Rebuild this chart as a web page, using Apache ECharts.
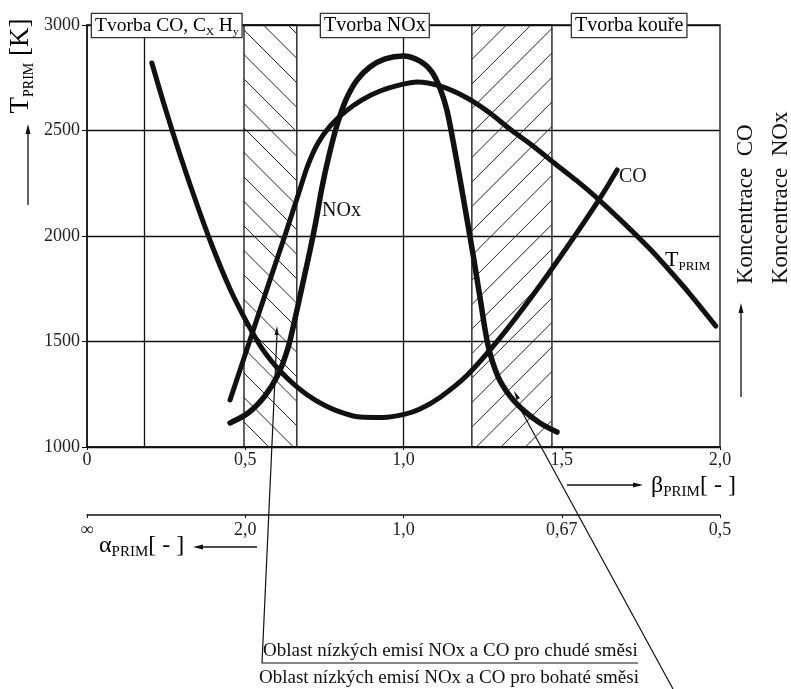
<!DOCTYPE html>
<html>
<head>
<meta charset="utf-8">
<title>Tvorba CO, NOx a kouře</title>
<script src="https://cdn.jsdelivr.net/npm/echarts@6.0.0/dist/echarts.min.js"></script>
<style>
  html, body { margin: 0; padding: 0; background: #fff; }
  #main { width: 791px; height: 689px; }
</style>
</head>
<body>
<div id="main"></div>
<script>
// osy
var betaTicks = [0, 0.5, 1.0, 1.5, 2.0];
var betaLabels = ['0', '0,5', '1,0', '1,5', '2,0'];
var alphaLabels = ['\u221e', '2,0', '1,0', '0,67', '0,5'];
var tempMin = 1000;
var tempMax = 3000;

// krivka CO
var coBeta = [0.205, 0.246, 0.294, 0.348, 0.398, 0.452, 0.506, 0.556, 0.610, 0.664, 0.720, 0.784,
              0.863, 0.935, 1.005, 1.052, 1.115, 1.201, 1.305, 1.409, 1.517, 1.621, 1.675];
var coVal  = [2820, 2611, 2384, 2147, 1943, 1749, 1588, 1460, 1360, 1284, 1223, 1175,
              1142, 1140, 1156, 1180, 1235, 1340, 1517, 1720, 1948, 2180, 2313];

// krivka NOx
var noxBeta = [0.452, 0.509, 0.562, 0.603, 0.635, 0.660, 0.682, 0.705, 0.724, 0.742, 0.765, 0.790,
               0.818, 0.853, 0.894, 0.942, 0.998, 1.052, 1.090, 1.115, 1.137, 1.156, 1.179, 1.201,
               1.220, 1.242, 1.267, 1.299, 1.336, 1.381, 1.431, 1.485];
var noxVal  = [1114, 1161, 1242, 1341, 1469, 1626, 1777, 1934, 2076, 2227, 2384, 2526,
               2645, 2739, 2801, 2839, 2853, 2829, 2777, 2701, 2597, 2455, 2265, 2076,
               1910, 1706, 1483, 1332, 1242, 1171, 1114, 1071];

// krivka T_PRIM
var tBeta = [0.452, 0.515, 0.578, 0.626, 0.667, 0.698, 0.730, 0.768, 0.815, 0.869, 0.926, 0.989,
             1.043, 1.115, 1.201, 1.273, 1.336, 1.409, 1.472, 1.548, 1.615, 1.706, 1.779, 1.842,
             1.905, 1.987];
var tVal  = [1223, 1507, 1791, 2005, 2194, 2336, 2441, 2521, 2588, 2645, 2687, 2716,
             2730, 2711, 2654, 2583, 2507, 2427, 2351, 2261, 2175, 2047, 1938, 1834,
             1725, 1573];

// svisle cary a srafovane oblasti
var dividerBeta = [0.185, 1.0];
var hatchBands = [[0.496, 0.663, -1], [1.216, 1.469, 1]];

var serif = '"Liberation Serif", "DejaVu Serif", serif';
var ink = '#111';

function pairs(xs, ys) {
  var out = [];
  for (var i = 0; i < xs.length; i++) out.push([xs[i], ys[i]]);
  return out;
}

// hrot sipky
function arrowHead(tx, ty, fx, fy, len, half) {
  var dx = tx - fx, dy = ty - fy, d = Math.sqrt(dx * dx + dy * dy);
  var ux = dx / d, uy = dy / d;
  var bx = tx - ux * len, by = ty - uy * len;
  return {
    type: 'polygon', silent: true,
    shape: { points: [[tx, ty], [bx - uy * half, by + ux * half], [bx + uy * half, by - ux * half]] },
    style: { fill: ink }
  };
}

function line(x1, y1, x2, y2, w) {
  return { type: 'line', silent: true, shape: { x1: x1, y1: y1, x2: x2, y2: y2 },
           style: { stroke: ink, lineWidth: w || 1.3 } };
}

function sub(big, small) {
  return {
    t: { fontFamily: serif, fontSize: big, color: ink, verticalAlign: 'bottom' },
    s: { fontFamily: serif, fontSize: small, color: ink, verticalAlign: 'bottom', padding: [0, 0, -2, 0] }
  };
}

function box(x, text, rich) {
  return {
    type: 'text', x: x, y: 25.5, z: 50,
    style: {
      text: text, rich: rich, align: 'left', verticalAlign: 'middle',
      backgroundColor: '#fff', borderColor: '#333', borderWidth: 1.3, padding: [2, 3, 1, 3]
    }
  };
}

function renderHatch(params, api) {
  var x0 = api.value(0), x1 = api.value(1), dir = api.value(2);
  var p0 = api.coord([x0, tempMax]);
  var p1 = api.coord([x1, tempMin]);
  var left = p0[0], top = p0[1], w = p1[0] - p0[0], h = p1[1] - p0[1];
  var step = 24.5;
  var children = [{
    type: 'rect', shape: { x: left, y: top, width: w, height: h },
    style: { fill: null, stroke: ink, lineWidth: 1.3 }
  }];
  var phase = dir < 0 ? 5 : 20;
  for (var c = phase - Math.ceil(w / step) * step; c < h; c += step) {
    var t0 = Math.max(0, -c), t1 = Math.min(w, h - c);
    if (t1 <= t0) continue;
    var ya, yb;
    if (dir < 0) { ya = top + t0 + c; yb = top + t1 + c; }
    else { ya = top + h - t0 - c; yb = top + h - t1 - c; }
    children.push({
      type: 'line', shape: { x1: left + t0, y1: ya, x2: left + t1, y2: yb },
      style: { stroke: '#222', lineWidth: 1 }
    });
  }
  return { type: 'group', children: children };
}

var chart = echarts.init(document.getElementById('main'));

var curveStyle = { color: ink, width: 5, cap: 'round', join: 'round' };

chart.setOption({
  animation: false,
  backgroundColor: '#fff',
  grid: {
    left: 87, top: 25, width: 633, height: 422,
    show: true, borderColor: ink, borderWidth: 1.3,
    outerBoundsMode: 'none'
  },
  xAxis: [{
    type: 'value', min: 0, max: 2, interval: 0.5,
    axisLine: { show: true, lineStyle: { color: ink, width: 1.5 } },
    axisTick: { show: true, length: 3, lineStyle: { color: ink } },
    splitLine: { show: false },
    axisLabel: {
      margin: 4, fontFamily: serif, fontSize: 18, color: '#222',
      formatter: function (v) { return betaLabels[betaTicks.indexOf(Math.round(v * 2) / 2)]; }
    }
  }, {
    type: 'value', min: 0, max: 2, interval: 0.5, position: 'bottom', offset: 68,
    axisLine: { show: true, onZero: false, lineStyle: { color: ink, width: 1.5 } },
    axisTick: { show: true, length: 3, lineStyle: { color: ink } },
    splitLine: { show: false },
    axisLabel: {
      margin: 6, fontFamily: serif, fontSize: 18, color: '#222',
      formatter: function (v) { return alphaLabels[betaTicks.indexOf(Math.round(v * 2) / 2)]; }
    }
  }],
  yAxis: {
    type: 'value', min: tempMin, max: tempMax, interval: 500,
    axisLine: { show: true, lineStyle: { color: ink, width: 1.5 } },
    axisTick: { show: true, length: 5, lineStyle: { color: ink } },
    axisLabel: {
      margin: 7, fontFamily: serif, fontSize: 18, color: '#222',
      formatter: function (v) { return String(v); }
    },
    splitLine: { show: true, lineStyle: { color: ink, width: 1.3 } }
  },
  series: [{
    type: 'custom', name: 'hatch', z: 1, silent: true,
    renderItem: renderHatch,
    encode: { x: [0, 1] },
    data: hatchBands
  }, {
    type: 'line', name: 'CO', z: 3, smooth: 0.3, showSymbol: false, silent: true,
    lineStyle: curveStyle,
    data: pairs(coBeta, coVal),
    markLine: {
      silent: true, symbol: 'none', label: { show: false },
      lineStyle: { color: ink, width: 1.3, type: 'solid' },
      data: dividerBeta.map(function (b) { return { xAxis: b }; })
    }
  }, {
    type: 'line', name: 'NOx', z: 3, smooth: 0.3, showSymbol: false, silent: true,
    lineStyle: { color: ink, width: 5.5, cap: 'round', join: 'round' },
    data: pairs(noxBeta, noxVal)
  }, {
    type: 'line', name: 'TPRIM', z: 3, smooth: 0.3, showSymbol: false, silent: true,
    lineStyle: curveStyle,
    data: pairs(tBeta, tVal)
  }],
  graphic: {
    elements: [
      // popisky oblasti nahore
      box(92, '{t|Tvorba CO, C}{s|X}{t| H}{s|y}', sub(19.5, 11)),
      box(321, '{t|Tvorba NOx}', sub(20, 11)),
      box(572, '{t|Tvorba kouře}', sub(20, 11)),

      // osa T_PRIM
      {
        type: 'text', x: 21, y: 66, rotation: Math.PI / 2, silent: true,
        style: { text: '{t|T}{s|PRIM}{t| [K]}', rich: sub(27, 14), align: 'center', verticalAlign: 'middle' }
      },
      line(28, 205, 28, 133),
      arrowHead(28, 124, 28, 205, 10, 2.5),

      // koncentrace vpravo
      {
        type: 'text', x: 746, y: 284, rotation: Math.PI / 2, silent: true,
        style: { text: 'Koncentrace  CO', fontFamily: serif, fontSize: 23, fill: ink, align: 'left', verticalAlign: 'middle' }
      },
      {
        type: 'text', x: 781, y: 284, rotation: Math.PI / 2, silent: true,
        style: { text: 'Koncentrace  NOx', fontFamily: serif, fontSize: 23, fill: ink, align: 'left', verticalAlign: 'middle' }
      },
      line(741, 397, 741, 313),
      arrowHead(741, 303, 741, 397, 10, 2.5),

      // popisky krivek
      {
        type: 'text', x: 322, y: 211, silent: true, z: 10,
        style: { text: 'NOx', fontFamily: serif, fontSize: 20, fill: ink, align: 'left', verticalAlign: 'middle' }
      },
      {
        type: 'text', x: 619, y: 177, silent: true, z: 10,
        style: { text: 'CO', fontFamily: serif, fontSize: 20, fill: ink, align: 'left', verticalAlign: 'middle' }
      },
      {
        type: 'text', x: 665, y: 260, silent: true, z: 10,
        style: { text: '{t|T}{s|PRIM}', rich: sub(22, 13), align: 'left', verticalAlign: 'middle' }
      },

      // beta
      line(567, 485, 634, 485),
      arrowHead(643, 485, 567, 485, 10, 2.5),
      {
        type: 'text', x: 651, y: 486, silent: true,
        style: { text: '{t|β}{s|PRIM}{t|[ - ]}', rich: sub(24, 15), align: 'left', verticalAlign: 'middle' }
      },

      // alfa
      {
        type: 'text', x: 99, y: 546, silent: true,
        style: { text: '{t|α}{s|PRIM}{t|[ - ]}', rich: sub(24, 15), align: 'left', verticalAlign: 'middle' }
      },
      line(257, 547, 202, 547),
      arrowHead(193, 547, 257, 547, 10, 2.5),

      // oblasti nizkych emisi
      {
        type: 'polyline', silent: true, z: 10,
        shape: { points: [[277, 334], [262, 663], [638, 663]] },
        style: { stroke: ink, lineWidth: 1.2, fill: null }
      },
      arrowHead(277, 326, 262, 663, 9, 2),
      line(515, 399, 673, 689, 1.2),
      arrowHead(514, 391, 673, 689, 9, 2),
      {
        type: 'text', x: 263, y: 651, silent: true,
        style: { text: 'Oblast nízkých emisí NOx a CO pro chudé směsi', fontFamily: serif, fontSize: 19, fill: ink, align: 'left', verticalAlign: 'middle' }
      },
      {
        type: 'text', x: 259, y: 678, silent: true,
        style: { text: 'Oblast nízkých emisí NOx a CO pro bohaté směsi', fontFamily: serif, fontSize: 19, fill: ink, align: 'left', verticalAlign: 'middle' }
      }
    ]
  }
});
</script>
</body>
</html>
